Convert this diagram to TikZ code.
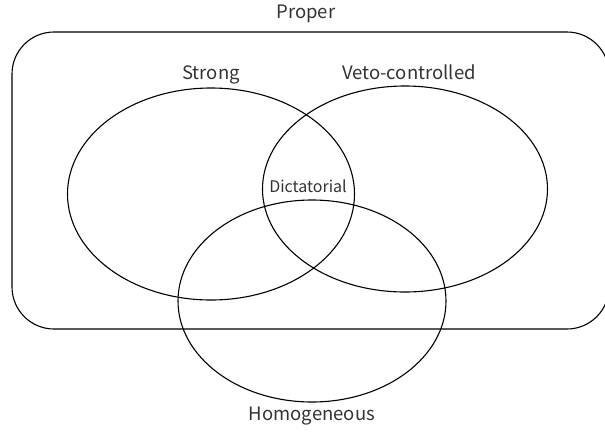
\documentclass[tikz,border=0pt]{standalone}
\usepackage{fontspec}
\setmainfont{Noto Sans CJK JP}
\usetikzlibrary{positioning,shapes.geometric}

\begin{document}
\begin{tikzpicture}[x=1pt, y=-1pt,
    set/.style={ellipse, draw, line width=1.1pt, inner sep=0pt, outer sep=0pt},
    setlabel/.style={font=\fontsize{18.5}{22}\selectfont, text=black!80, inner sep=0pt,
      text height=0.75em, text depth=0.25em}]
    \useasboundingbox (0,0) rectangle (605,432);
    \clip (0,0) rectangle (605,432);
    % outer set
    \draw[line width=1.1pt, rounded corners=42pt] (12,32) rectangle (609,329);
    \node[setlabel] (proper) at (306,16) {Proper};
    % the three sets
    \node[set, minimum width=287pt, minimum height=212pt] (strong) at (211,194) {};
    \node[set, minimum width=285pt, minimum height=206pt] (veto) at (405,189) {};
    \node[set, minimum width=268pt, minimum height=202pt] (homog) at (312,301) {};
    \node[setlabel, above=6pt of strong] (strongtxt) {Strong};
    \node[setlabel, above=6pt of strong.north -| veto, xshift=4pt] (vetotxt) {Veto-controlled};
    \node[setlabel, below=11pt of homog] (homogtxt) {Homogeneous};
    \node[font=\fontsize{16}{18}\selectfont, text=black!80, inner sep=0pt] (dict) at (308,186) {Dictatorial};
\end{tikzpicture}
\end{document}
